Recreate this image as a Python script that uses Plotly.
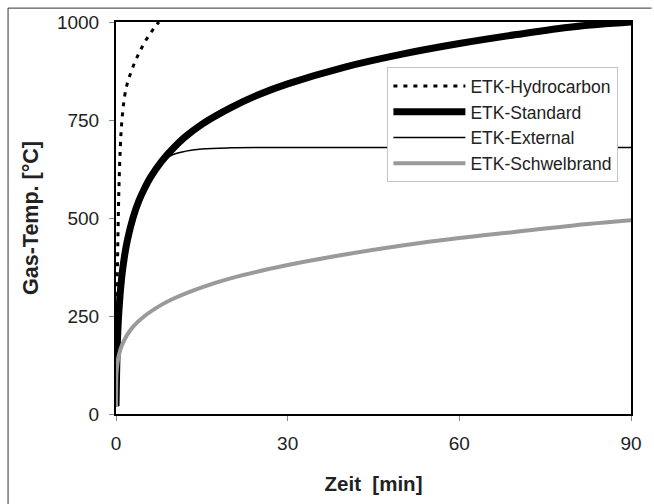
import plotly.graph_objects as go

# Time axis values [min] and gas temperatures [°C]
t_hc = [0, 0.1, 0.25, 0.5, 0.75, 1, 1.5, 2, 3, 4, 5, 6, 7, 7.5]
T_hc = [20, 187, 373, 568, 679, 743, 810, 844, 887, 920, 948, 971, 991, 1000]

t_std = [0, 0.25, 0.5, 1, 1.5, 2, 3, 4, 5, 6, 8, 10, 12, 15, 20, 25, 30, 40, 50, 60, 70, 80, 90]
T_std = [20, 185, 261, 349, 404, 444, 502, 544, 576, 603, 645, 678, 706, 739, 781, 815, 842, 885, 918, 945, 968, 988, 1000]

t_ext = [0, 0.25, 0.5, 1, 1.5, 2, 3, 4, 5, 6, 8, 10, 12, 15, 20, 30, 60, 90]
T_ext = [20, 182, 263, 346, 399, 441, 506, 554, 588, 614, 645, 662, 670, 676, 679, 680, 680, 680]

t_sch = [0, 0.1, 0.25, 0.5, 1, 2, 3, 5, 8, 10, 15, 20, 30, 40, 50, 60, 70, 80, 90]
T_sch = [20, 107, 129, 150, 174, 203, 223, 250, 279, 294, 323, 346, 380, 407, 430, 449, 465, 481, 494]

x_ticks = [0, 30, 60, 90]
y_ticks = [0, 250, 500, 750, 1000]

FONT = "Liberation Sans, Arial, sans-serif"

fig = go.Figure()
fig.add_trace(go.Scatter(x=t_hc, y=T_hc, mode="lines", name="ETK-Hydrocarbon",
                         line=dict(color="black", width=3, dash="4px,6px", shape="spline")))
fig.add_trace(go.Scatter(x=t_std, y=T_std, mode="lines", name="ETK-Standard",
                         line=dict(color="black", width=7, shape="spline")))
fig.add_trace(go.Scatter(x=t_ext, y=T_ext, mode="lines", name="ETK-External",
                         line=dict(color="black", width=1.5, shape="spline")))
fig.add_trace(go.Scatter(x=t_sch, y=T_sch, mode="lines", name="ETK-Schwelbrand",
                         line=dict(color="#9a9a9a", width=4, shape="spline")))

frame = dict(color="#333", width=1)
fig.update_layout(
    width=654, height=504,
    margin=dict(l=116, r=18, t=21, b=87),
    paper_bgcolor="white", plot_bgcolor="white",
    font=dict(family=FONT, color="#222", size=19),
    showlegend=True,
    legend=dict(x=0.527, y=0.885, xanchor="left", yanchor="top",
                bgcolor="white", bordercolor="#c4c4c4", borderwidth=1,
                font=dict(size=17.5, color="#222"), itemwidth=72,
                tracegroupgap=0),
    xaxis=dict(range=[0, 90], tickvals=x_ticks, showgrid=False, zeroline=False,
               showline=True, linecolor="black", linewidth=2, mirror=True,
               ticks="outside", ticklen=5, tickcolor="#888",
               tickfont=dict(size=19), ticklabelstandoff=6,
               title=dict(text="<b>Zeit  [min]</b>", font=dict(size=20.5), standoff=24)),
    yaxis=dict(range=[0, 1000], tickvals=y_ticks, showgrid=False, zeroline=False,
               showline=True, linecolor="black", linewidth=2, mirror=True,
               ticks="outside", ticklen=5, tickcolor="#888",
               tickfont=dict(size=19), ticklabelstandoff=6,
               title=dict(text="<b>Gas-Temp. [°C]</b>", font=dict(size=21.5), standoff=12)),
    shapes=[
        dict(type="line", xref="paper", yref="paper",
             x0=-0.2096, x1=1.04, y0=1.0354, y1=1.0354, line=frame, layer="below"),
        dict(type="line", xref="paper", yref="paper",
             x0=-0.2096, x1=-0.2096, y0=1.0354, y1=-0.23, line=frame, layer="below"),
    ],
)

fig.write_html("out.html")
